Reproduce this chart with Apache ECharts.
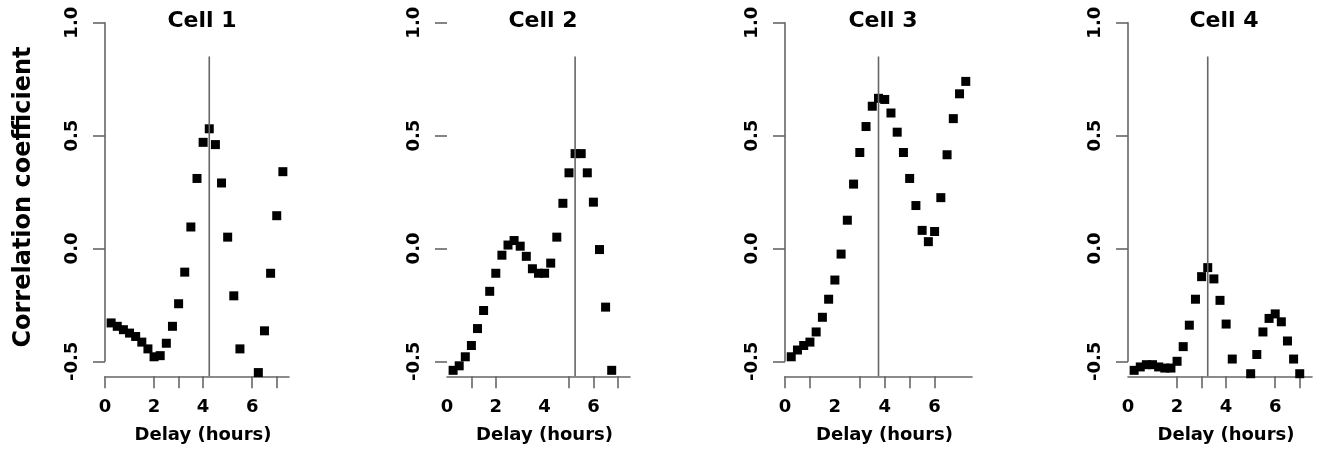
<!DOCTYPE html>
<html>
<head>
<meta charset="utf-8">
<script src="https://cdn.jsdelivr.net/npm/echarts@6/dist/echarts.min.js"></script>
<style>html,body{margin:0;padding:0;background:#fff}#c{width:1320px;height:452px}</style>
</head>
<body>
<div id="c"></div>
<script>
// ---------------- data ----------------
const cellTitles = ['Cell 1', 'Cell 2', 'Cell 3', 'Cell 4'];
const yTitle = 'Correlation coefficient';
const xTitle = 'Delay (hours)';
const delays = [0.25, 0.5, 0.75, 1.0, 1.25, 1.5, 1.75, 2.0, 2.25, 2.5, 2.75, 3.0, 3.25, 3.5, 3.75,
                4.0, 4.25, 4.5, 4.75, 5.0, 5.25, 5.5, 5.75, 6.0, 6.25, 6.5, 6.75, 7.0, 7.25];
const cell1 = [-0.33, -0.345, -0.36, -0.375, -0.39, -0.415, -0.445, -0.48, -0.475, -0.42, -0.345, -0.245, -0.105, 0.095, 0.31,
               0.47, 0.53, 0.46, 0.29, 0.05, -0.21, -0.445, null, null, -0.55, -0.365, -0.11, 0.145, 0.34];
const cell2 = [-0.54, -0.52, -0.48, -0.43, -0.355, -0.275, -0.19, -0.11, -0.03, 0.015, 0.035, 0.01, -0.035, -0.09, -0.11,
               -0.11, -0.065, 0.05, 0.2, 0.335, 0.42, 0.42, 0.335, 0.205, -0.005, -0.26, -0.54, null, null];
const cell3 = [-0.48, -0.45, -0.43, -0.415, -0.37, -0.305, -0.225, -0.14, -0.025, 0.125, 0.285, 0.425, 0.54, 0.63, 0.665,
               0.66, 0.6, 0.515, 0.425, 0.31, 0.19, 0.08, 0.03, 0.075, 0.225, 0.415, 0.575, 0.685, 0.74];
const cell4 = [-0.54, -0.525, -0.515, -0.515, -0.525, -0.53, -0.53, -0.5, -0.435, -0.34, -0.225, -0.125, -0.085, -0.135, -0.23,
               -0.335, -0.49, null, null, -0.555, -0.47, -0.37, -0.31, -0.29, -0.325, -0.41, -0.49, -0.555, null];
const cellValues = [cell1, cell2, cell3, cell4];
const peakDelays = [4.25, 5.25, 3.75, 3.25];
const peakLineTop = 0.85;
const yTickValues = [-0.5, 0.0, 0.5, 1.0];
const xLabelValues = [0, 2, 4, 6];
const xTickValues = [[0, 2, 3, 4, 6, 7], [1, 2, 5, 6, 7], [0, 1, 3, 4, 5, 6], [2, 3, 4, 6, 7]];

// ---------------- layout ----------------
const gridLeft = [105, 447, 785, 1128];
const gridWidth = [184, 183, 187, 184];
const gridTop = 22.7, gridHeight = 338.6;
const xAxisOffset = 15;
const titleCenter = [202, 543, 883, 1224];
const FONT = 'DejaVu Sans';
const AXIS = '#666666';
const yBottomValue = -0.5 - xAxisOffset * 1.5 / gridHeight;

const chart = echarts.init(document.getElementById('c'), null, {renderer: 'canvas'});
const grids = [], xAxes = [], yAxes = [], series = [], titles = [];
for (let i = 0; i < 4; i++) {
  grids.push({left: gridLeft[i], top: gridTop, width: gridWidth[i], height: gridHeight,
              containLabel: false, outerBoundsMode: 'none'});
  xAxes.push({
    gridIndex: i, type: 'value', min: 0, max: 7.5, position: 'bottom', offset: xAxisOffset,
    axisLine: {show: true, onZero: false, lineStyle: {color: AXIS, width: 1.6}},
    axisTick: {show: true, length: 12, customValues: xTickValues[i], lineStyle: {color: AXIS, width: 1.6}},
    axisLabel: {customValues: xLabelValues, margin: 22, fontFamily: FONT, fontWeight: 'bold', fontSize: 18, color: '#000'},
    splitLine: {show: false},
    name: xTitle, nameLocation: 'middle', nameGap: 50,
    nameTextStyle: {fontFamily: FONT, fontWeight: 'bold', fontSize: 18, color: '#000', padding: [0, 0, 0, 12]}
  });
  yAxes.push({
    gridIndex: i, type: 'value', min: -0.5, max: 1.0, interval: 0.5,
    axisLine: {show: i !== 1, onZero: false, lineStyle: {color: AXIS, width: 1.6}},
    axisTick: {show: true, length: 12, lineStyle: {color: AXIS, width: 1.6}},
    axisLabel: {rotate: 90, margin: 24, fontFamily: FONT, fontWeight: 'bold', fontSize: 18, color: '#000',
                formatter: v => v.toFixed(1)},
    splitLine: {show: false}
  });
  series.push({
    type: 'line', xAxisIndex: i, yAxisIndex: i, clip: false, symbol: 'none', silent: true,
    data: [[peakDelays[i], peakLineTop], [peakDelays[i], yBottomValue]],
    lineStyle: {color: AXIS, width: 1.6}
  });
  series.push({
    type: 'scatter', xAxisIndex: i, yAxisIndex: i, clip: false, symbol: 'rect', symbolSize: 9,
    itemStyle: {color: '#000', opacity: 1},
    data: delays.map((d, j) => [d, cellValues[i][j]]).filter(p => p[1] !== null)
  });
  titles.push({text: cellTitles[i], left: titleCenter[i], top: 21, padding: 0,
               textAlign: 'center', textVerticalAlign: 'middle',
               textStyle: {fontFamily: FONT, fontWeight: 'bold', fontSize: 22, color: '#000'}});
}

chart.setOption({
  animation: false,
  backgroundColor: '#fff',
  title: titles,
  grid: grids,
  xAxis: xAxes,
  yAxis: yAxes,
  series: series,
  graphic: [{
    type: 'text', x: 24, y: 197, rotation: Math.PI / 2,
    style: {text: yTitle, fill: '#000', font: 'bold 24px "DejaVu Sans"', align: 'center', verticalAlign: 'middle'}
  }]
});
</script>
</body>
</html>
